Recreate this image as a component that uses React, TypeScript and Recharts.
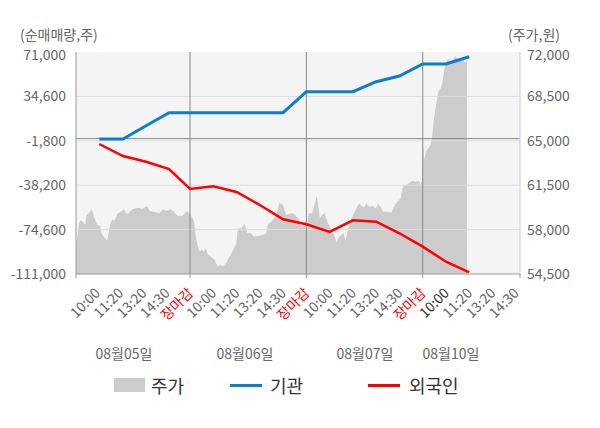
import React from 'react';
import {
  ComposedChart,
  Area,
  Line,
  XAxis,
  YAxis,
  CartesianGrid,
  ReferenceLine,
} from 'recharts';

// x positions are in "slot" units: one slot per time label, day ends at 5, 10, 15
const slotLabels = [
  '10:00', '11:20', '13:20', '14:30', '장마감',
  '10:00', '11:20', '13:20', '14:30', '장마감',
  '10:00', '11:20', '13:20', '14:30', '장마감',
  '10:00', '11:20', '13:20', '14:30',
];
const dayEnds = [5, 10, 15];
const edgeTicks = [0.1, 5, 10, 15, 19.18];
const dateLabels = ['08월05일', '08월06일', '08월07일', '08월10일'];
const dateCenters = [124, 245, 365, 451];

const leftTicks = [71000, 34600, -1800, -38200, -74600, -111000];
const rightTicks = [72000, 68500, 65000, 61500, 58000, 54500];

const priceX = [
  0.1, 0.15, 0.23, 0.3, 0.4, 0.49, 0.56, 0.66, 0.77, 0.83, 0.9, 1.01, 1.13, 1.2, 1.3, 1.4, 1.46,
  1.56, 1.66, 1.76, 1.87, 2.02, 2.16, 2.28, 2.38, 2.52, 2.66, 2.81, 2.95, 3.14, 3.28, 3.45, 3.67,
  3.85, 4.0, 4.17, 4.31, 4.45, 4.67, 4.86, 4.95, 5.05, 5.14, 5.17, 5.27, 5.34, 5.42, 5.51, 5.6,
  5.67, 5.77, 5.91, 6.06, 6.17, 6.27, 6.42, 6.56, 6.7, 6.85, 6.99, 7.06, 7.2, 7.35, 7.46, 7.61,
  7.75, 7.92, 8.14, 8.28, 8.35, 8.49, 8.64, 8.75, 8.85, 8.99, 9.14, 9.28, 9.38, 9.52, 9.67, 9.78,
  9.93, 10.04, 10.11, 10.25, 10.36, 10.44, 10.5, 10.58, 10.68, 10.79, 10.9, 11.01, 11.11, 11.22,
  11.3, 11.4, 11.5, 11.59, 11.69, 11.79, 11.9, 12.05, 12.16, 12.26, 12.36, 12.48, 12.59, 12.69,
  12.83, 12.98, 13.08, 13.19, 13.3, 13.48, 13.65, 13.76, 13.91, 14.05, 14.14, 14.27, 14.41, 14.55,
  14.7, 14.84, 14.9, 14.97, 15.02, 15.07, 15.14, 15.24, 15.34, 15.41, 15.48, 15.57, 15.67, 15.77,
  15.84, 15.91, 15.99, 16.06, 16.17, 16.29, 16.39, 16.48, 16.6, 16.68, 16.75, 16.82, 16.9,
];
const priceValues = [
  57050, 57230, 58500, 58760, 58620, 58360, 59150, 59280, 59600, 59280, 58890, 58360, 58280, 57710,
  57440, 57180, 57230, 58360, 58810, 58700, 59230, 59410, 59600, 59210, 59330, 59600, 59680, 59730,
  59620, 59860, 59470, 59410, 59280, 59600, 59470, 59600, 59410, 59100, 59070, 59470, 59280, 59070,
  58800, 58620, 57180, 56650, 56260, 56450, 56260, 56530, 56000, 55860, 55600, 55130, 55210, 55130,
  55390, 55860, 56390, 56920, 58100, 58100, 58440, 57760, 57710, 57440, 57500, 57570, 57710, 58440,
  58620, 58970, 59490, 60120, 59940, 59150, 59230, 59330, 59150, 58810, 58230, 58280, 58500, 59280,
  59280, 60070, 60650, 60070, 58890, 59150, 59330, 58620, 58230, 57840, 57440, 56970, 57440, 57570,
  57710, 57180, 57970, 58760, 59280, 59680, 60070, 59860, 59760, 60070, 59800, 59860, 59680, 60020,
  59800, 59410, 59410, 59330, 59800, 60200, 60470, 61330, 61520, 61650, 61860, 61780, 61860, 61540,
  61860, 64690, 63510, 64170, 64430, 64690, 65360, 66800, 67720, 68900, 69110, 69560, 70480, 71000,
  71390, 71270, 71390, 71660, 71530, 71310, 71270, 71390, 71130, 71310,
];

const flowX = [1.1, 2.12, 3.11, 4.1, 5, 6, 7, 8, 9, 10, 11, 12, 13, 14, 15, 16, 17];
const institutionValues = [
  -300, -300, 10500, 21240, 21240, 21240, 21240, 21240, 21240, 38460, 38460, 38460, 46650, 51330,
  61160, 61160, 67150,
];
const foreignValues = [
  -4420, -14260, -18930, -24920, -41310, -39100, -43770, -54430, -66150, -70250, -76560, -66970,
  -68100, -77600, -88610, -100900, -109600,
];

const priceData = priceX.map((x, i) => ({ x, price: priceValues[i] }));
const flowData = flowX.map((x, i) => ({
  x,
  inst: institutionValues[i],
  foreign: foreignValues[i],
}));

const FONT = '"Noto Sans CJK KR", "Noto Sans", sans-serif';
const fmt = (v: number) => v.toLocaleString('en-US');

const SlotTick = (props: any) => {
  const { x, y, payload } = props;
  const v = payload.value;
  const isEdge = edgeTicks.includes(v);
  const idx = Math.round(v) - 1;
  const isLabel = Number.isInteger(v) && idx >= 0 && idx < slotLabels.length;
  const label = isLabel ? slotLabels[idx] : '';
  const color = label === '장마감' ? '#ff0000' : v === 16 ? '#333333' : '#666666';
  const ax = x + 4;
  const ay = y + 12;
  return (
    <g>
      {isEdge && <line x1={x} y1={y - 8} x2={x} y2={y - 4} stroke="#999999" />}
      {isLabel && (
        <text
          x={ax}
          y={ay}
          transform={`rotate(-45, ${ax}, ${ay})`}
          textAnchor="end"
          fill={color}
          fontSize={14}
          fontFamily={FONT}
        >
          {label}
        </text>
      )}
    </g>
  );
};

// top label sits a little below its grid line, like the original
const ValueTick = (props: any) => {
  const { x, y, payload, textAnchor, topValue } = props;
  const shift = payload.value === topValue ? 3 : 0;
  return (
    <text
      x={x}
      y={y + shift}
      dy="0.355em"
      textAnchor={textAnchor}
      fill="#666666"
      fontSize={14}
      fontFamily={FONT}
    >
      {fmt(payload.value)}
    </text>
  );
};

const App = () => {
  const allTicks = [0.1, ...slotLabels.map((_, i) => i + 1), 19.18];
  return (
    <div
      style={{
        position: 'absolute',
        left: 0,
        top: 0,
        width: 600,
        height: 428,
        fontFamily: FONT,
        background: '#ffffff',
      }}
    >
      <div style={{ position: 'absolute', left: 20, top: 27, fontSize: 14, color: '#666', lineHeight: '14px' }}>
        (순매매량,주)
      </div>
      <div style={{ position: 'absolute', left: 508, top: 27, fontSize: 14, color: '#666', lineHeight: '14px' }}>
        (주가,원)
      </div>
      <ComposedChart
        width={600}
        height={428}
        margin={{ top: 52, right: 0, bottom: 94, left: 0 }}
      >
        <CartesianGrid fill="#f4f4f4" horizontal={false} vertical={false} yAxisId="left" />
        <XAxis
          dataKey="x"
          type="number"
          domain={[0.1, 19.18]}
          allowDataOverflow
          ticks={allTicks}
          interval={0}
          tick={<SlotTick />}
          tickLine={false}
          axisLine={{ stroke: '#999999' }}
          height={60}
        />
        <YAxis
          yAxisId="left"
          domain={[-111000, 71000]}
          ticks={leftTicks}
          interval={0}
          tick={<ValueTick topValue={71000} />}
          tickLine={false}
          tickMargin={4}
          axisLine={{ stroke: '#999999' }}
          width={76}
        />
        <YAxis
          yAxisId="right"
          orientation="right"
          domain={[54500, 72000]}
          ticks={rightTicks}
          interval={0}
          tick={<ValueTick topValue={72000} />}
          tickLine={false}
          tickMargin={1}
          axisLine={{ stroke: '#cccccc' }}
          width={80}
        />
        <Area
          yAxisId="right"
          data={priceData}
          dataKey="price"
          type="linear"
          fill="#cccccc"
          fillOpacity={1}
          stroke="none"
          isAnimationActive={false}
        />
        {leftTicks.slice(1, 5).map((t) => (
          <ReferenceLine key={t} yAxisId="left" y={t} stroke="#dddddd" strokeWidth={1} />
        ))}
        {dayEnds.map((d) => (
          <ReferenceLine key={d} yAxisId="left" x={d} stroke="#888888" strokeWidth={1} />
        ))}
        <ReferenceLine yAxisId="left" y={0} stroke="#888888" strokeWidth={1} />
        <Line
          yAxisId="left"
          data={flowData}
          dataKey="inst"
          type="linear"
          stroke="#0b7fcb"
          strokeWidth={3}
          dot={false}
          isAnimationActive={false}
        />
        <Line
          yAxisId="left"
          data={flowData}
          dataKey="foreign"
          type="linear"
          stroke="#ff0000"
          strokeWidth={2.5}
          dot={false}
          isAnimationActive={false}
        />
      </ComposedChart>
      {dateLabels.map((d, i) => (
        <div
          key={d}
          style={{
            position: 'absolute',
            left: dateCenters[i] - 40,
            width: 80,
            top: 345,
            textAlign: 'center',
            fontSize: 14,
            color: '#666',
            lineHeight: '16px',
          }}
        >
          {d}
        </div>
      ))}
      <div style={{ position: 'absolute', left: 114, top: 378, width: 31, height: 14, background: '#cccccc' }} />
      <div style={{ position: 'absolute', left: 151, top: 374, fontSize: 18, color: '#333', lineHeight: '22px' }}>
        주가
      </div>
      <div style={{ position: 'absolute', left: 230, top: 384, width: 32, height: 3, background: '#0b7fcb' }} />
      <div style={{ position: 'absolute', left: 270, top: 374, fontSize: 18, color: '#333', lineHeight: '22px' }}>
        기관
      </div>
      <div style={{ position: 'absolute', left: 368, top: 384, width: 32, height: 3, background: '#ff0000' }} />
      <div style={{ position: 'absolute', left: 409, top: 374, fontSize: 18, color: '#333', lineHeight: '22px' }}>
        외국인
      </div>
    </div>
  );
};

export default App;
